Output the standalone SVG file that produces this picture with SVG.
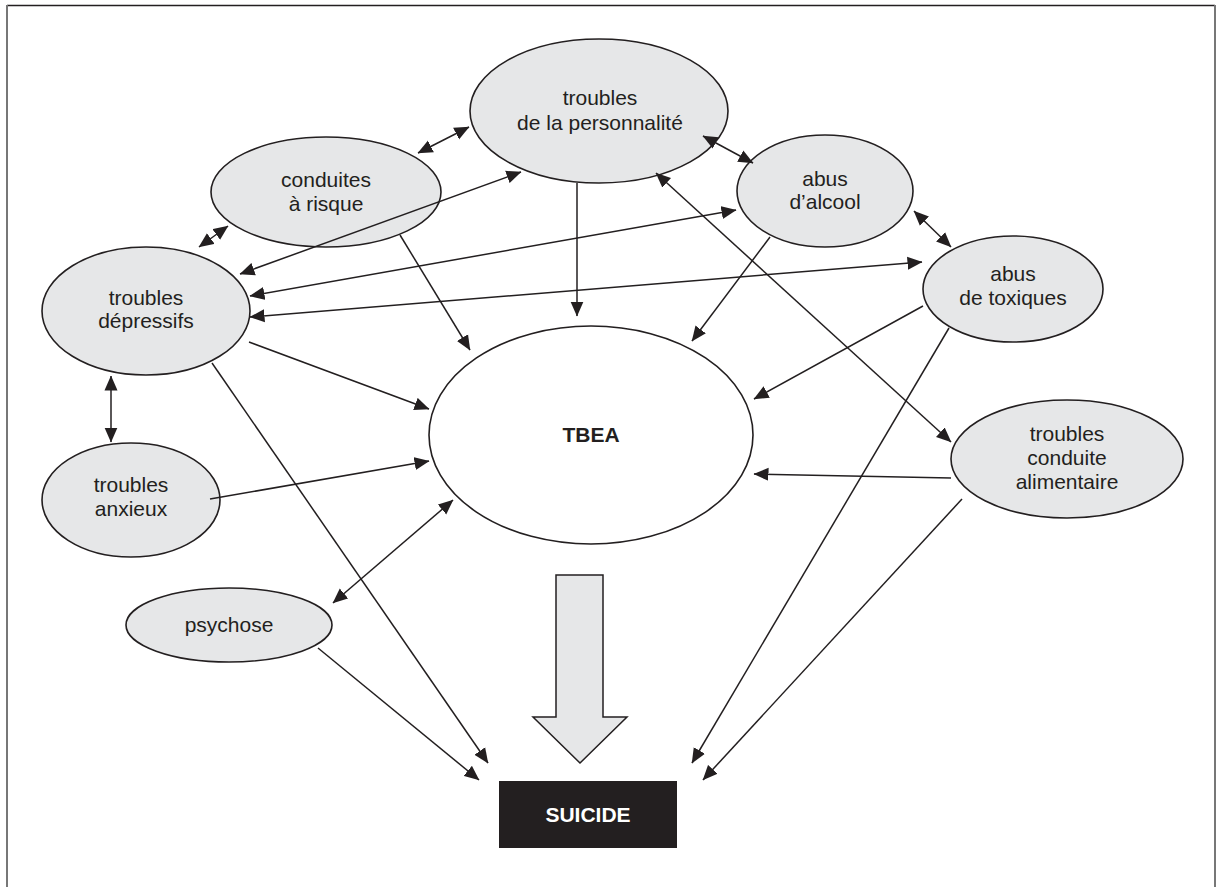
<svg xmlns="http://www.w3.org/2000/svg" width="1222" height="887" viewBox="0 0 1222 887">
<style>
.n{fill:#e6e7e8;stroke:#231f20;stroke-width:1.6}
.t{font-family:"Liberation Sans",Arial,sans-serif;font-size:21px;fill:#231f20;text-anchor:middle}
.b{font-family:"Liberation Sans",Arial,sans-serif;font-weight:bold;font-size:21px;text-anchor:middle}
.c line{stroke:#231f20;stroke-width:1.5;fill:none}
.e{marker-end:url(#ah)}
.d{marker-end:url(#ah);marker-start:url(#ah)}
</style>
<defs>
<marker id="ah" markerUnits="userSpaceOnUse" markerWidth="15" markerHeight="14" viewBox="0 0 15 14" refX="14.5" refY="7" orient="auto-start-reverse">
<path d="M0,0.5 L15,7 L0,13.5 z" fill="#231f20"/>
</marker>
</defs>
<rect width="1222" height="887" fill="#ffffff"/>
<g id="frame">
<line x1="7" y1="5.5" x2="1215" y2="5.5" stroke="#231f20" stroke-width="1.5"/>
<line x1="7" y1="5" x2="7" y2="887" stroke="#777" stroke-width="2"/>
<line x1="1215" y1="5" x2="1215" y2="887" stroke="#777" stroke-width="2"/>
</g>
<g id="personnalite">
<ellipse class="n" cx="599" cy="111" rx="129" ry="72"/>
<text class="t" x="600" y="105">troubles</text>
<text class="t" x="600" y="130">de la personnalité</text>
</g>
<g id="conduites">
<ellipse class="n" cx="326" cy="192" rx="115" ry="55"/>
<text class="t" x="326" y="187">conduites</text>
<text class="t" x="326" y="211">à risque</text>
</g>
<g id="alcool">
<ellipse class="n" cx="825" cy="191" rx="88" ry="56"/>
<text class="t" x="825" y="186">abus</text>
<text class="t" x="825" y="209">d’alcool</text>
</g>
<g id="toxiques">
<ellipse class="n" cx="1013" cy="289" rx="90" ry="53"/>
<text class="t" x="1013" y="281">abus</text>
<text class="t" x="1013" y="305">de toxiques</text>
</g>
<g id="depressifs">
<ellipse class="n" cx="146" cy="311" rx="104" ry="64"/>
<text class="t" x="146" y="305">troubles</text>
<text class="t" x="146" y="328">dépressifs</text>
</g>
<g id="anxieux">
<ellipse class="n" cx="131" cy="500" rx="89" ry="57"/>
<text class="t" x="131" y="492">troubles</text>
<text class="t" x="131" y="516">anxieux</text>
</g>
<g id="alimentaire">
<ellipse class="n" cx="1067" cy="459" rx="116" ry="59"/>
<text class="t" x="1067" y="441">troubles</text>
<text class="t" x="1067" y="465">conduite</text>
<text class="t" x="1067" y="489">alimentaire</text>
</g>
<g id="psychose">
<ellipse class="n" cx="229" cy="625" rx="103" ry="37"/>
<text class="t" x="229" y="632">psychose</text>
</g>
<g id="tbea">
<ellipse cx="591" cy="435" rx="162" ry="109" fill="#ffffff" stroke="#231f20" stroke-width="1.6"/>
<text class="b" x="591" y="442" fill="#231f20">TBEA</text>
</g>
<g id="bigarrow">
<polygon points="556,575 603,575 603,717 627,717 580,763 533,717 556,717" fill="#e6e7e8" stroke="#231f20" stroke-width="1.5" stroke-linejoin="miter"/>
</g>
<g id="suicide">
<rect x="499" y="781" width="178" height="67" fill="#231f20"/>
<text class="b" x="588" y="822" fill="#ffffff" font-size="22">SUICIDE</text>
</g>
<g id="connectors" class="c">
<line class="d" x1="418" y1="153" x2="469" y2="127"/>
<line class="d" x1="703" y1="136" x2="753" y2="163"/>
<line class="d" x1="199" y1="247" x2="228" y2="226"/>
<line class="d" x1="914" y1="211" x2="951" y2="247"/>
<line class="d" x1="240" y1="274" x2="521" y2="172"/>
<line class="d" x1="250" y1="296" x2="736" y2="210"/>
<line class="d" x1="250" y1="317" x2="922" y2="262"/>
<line class="d" x1="111" y1="376" x2="111" y2="442"/>
<line class="d" x1="656" y1="173" x2="951" y2="442"/>
<line class="d" x1="333" y1="603" x2="453" y2="500"/>
<line class="e" x1="400" y1="235" x2="470" y2="350"/>
<line class="e" x1="577" y1="183" x2="577" y2="316"/>
<line class="e" x1="770" y1="237" x2="692" y2="341"/>
<line class="e" x1="923" y1="306" x2="754" y2="399"/>
<line class="e" x1="951" y1="478" x2="754" y2="474"/>
<line class="e" x1="249" y1="342" x2="429" y2="409"/>
<line class="e" x1="210" y1="499" x2="429" y2="461"/>
<line class="e" x1="212" y1="363" x2="488" y2="763"/>
<line class="e" x1="318" y1="648" x2="479" y2="780"/>
<line class="e" x1="949" y1="328" x2="692" y2="763"/>
<line class="e" x1="962" y1="499" x2="703" y2="780"/>
</g>
</svg>
